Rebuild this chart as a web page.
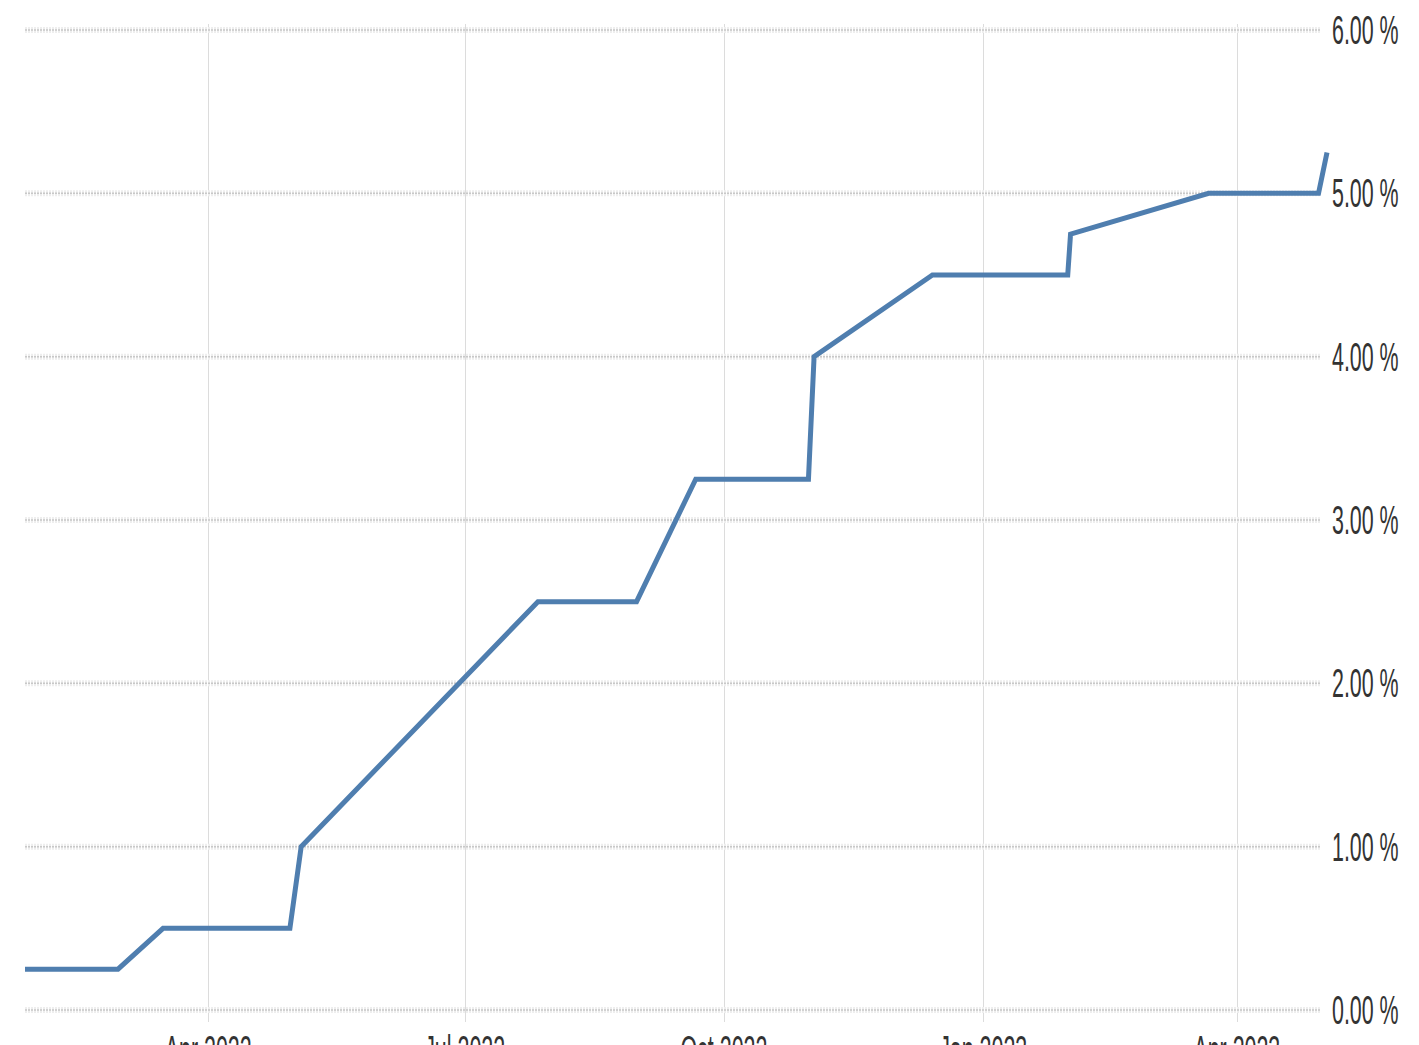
<!DOCTYPE html>
<html>
<head>
<meta charset="utf-8">
<script src="https://cdn.jsdelivr.net/npm/d3@7"></script>
<style>
  html, body { margin: 0; padding: 0; background: #fff; overflow: hidden; }
  svg { display: block; }
  .tick-label { font-family: 'Liberation Sans', Arial, sans-serif; fill: #333; }
</style>
</head>
<body>
<script>
(function() {
  // Fed funds rate, sampled points
  var dates = [
    '2022-01-26', '2022-02-28', '2022-03-16', '2022-04-30', '2022-05-04',
    '2022-06-15', '2022-07-27', '2022-08-31', '2022-09-21', '2022-10-31',
    '2022-11-02', '2022-12-14', '2023-01-31', '2023-02-01', '2023-03-22',
    '2023-04-30', '2023-05-03'
  ];
  var rates = [
    0.25, 0.25, 0.50, 0.50, 1.00,
    1.75, 2.50, 2.50, 3.25, 3.25,
    4.00, 4.50, 4.50, 4.75, 5.00,
    5.00, 5.25
  ];
  var xTickDates = ['2022-04-01', '2022-07-01', '2022-10-01', '2023-01-01', '2023-04-01'];
  var xTickLabels = ['Apr 2022', 'Jul 2022', 'Oct 2022', 'Jan 2023', 'Apr 2023'];
  var yTicks = [0, 1, 2, 3, 4, 5, 6];

  var parse = d3.timeParse('%Y-%m-%d');
  var dataset = dates.map((d, i) => [parse(d), rates[i]]);

  var w = 1419;
  var h = 1045;

  var svg = d3
    .select('body')
    .append('svg')
    .attr('width', w)
    .attr('height', h);

  var xScale = d3
    .scaleTime()
    .domain([parse('2022-01-26'), parse('2023-05-03')])
    .range([25, 1327]);

  var yScale = d3
    .scaleLinear()
    .domain([0, 6])
    .range([1010, 30]);

  // vertical grid
  svg
    .append('g')
    .selectAll('line')
    .data(xTickDates)
    .enter()
    .append('line')
    .attr('x1', d => Math.round(xScale(parse(d))) + 0.5)
    .attr('x2', d => Math.round(xScale(parse(d))) + 0.5)
    .attr('y1', 24)
    .attr('y2', 1022)
    .attr('stroke', '#dcdcdc')
    .attr('stroke-width', 1);

  // horizontal grid (blurry dotted)
  var hgrid = svg.append('g');
  hgrid
    .selectAll('line.soft')
    .data(yTicks)
    .enter()
    .append('line')
    .attr('class', 'soft')
    .attr('x1', 25)
    .attr('x2', 1320)
    .attr('y1', d => yScale(d))
    .attr('y2', d => yScale(d))
    .attr('stroke', '#eeeeee')
    .attr('stroke-width', 6)
    .attr('stroke-dasharray', '2,1');
  hgrid
    .selectAll('line.hard')
    .data(yTicks)
    .enter()
    .append('line')
    .attr('class', 'hard')
    .attr('x1', 25)
    .attr('x2', 1320)
    .attr('y1', d => yScale(d))
    .attr('y2', d => yScale(d))
    .attr('stroke', '#c8c8c8')
    .attr('stroke-width', 1.5)
    .attr('stroke-dasharray', '2,1');

  // line
  var line = d3
    .line()
    .x(d => xScale(d[0]))
    .y(d => yScale(d[1]));

  svg
    .append('path')
    .datum(dataset)
    .attr('d', line)
    .attr('fill', 'none')
    .attr('stroke', '#4f7eaf')
    .attr('stroke-width', 5)
    .attr('stroke-linejoin', 'miter');

  // y labels (stretched text)
  svg
    .append('g')
    .selectAll('text')
    .data(yTicks)
    .enter()
    .append('text')
    .attr('class', 'tick-label')
    .attr('transform', d => `translate(1332, ${yScale(d) + 14}) scale(1.02, 1.95)`)
    .attr('font-size', 21)
    .text(d => d3.format('.2f')(d) + ' %');

  // x labels (cut off at the bottom, as in the source picture)
  svg
    .append('g')
    .selectAll('text')
    .data(xTickDates)
    .enter()
    .append('text')
    .attr('class', 'tick-label')
    .attr('text-anchor', 'middle')
    .attr('transform', d => `translate(${xScale(parse(d))}, 1064) scale(1.02, 1.95)`)
    .attr('font-size', 21)
    .text((d, i) => xTickLabels[i]);
})();
</script>
</body>
</html>
